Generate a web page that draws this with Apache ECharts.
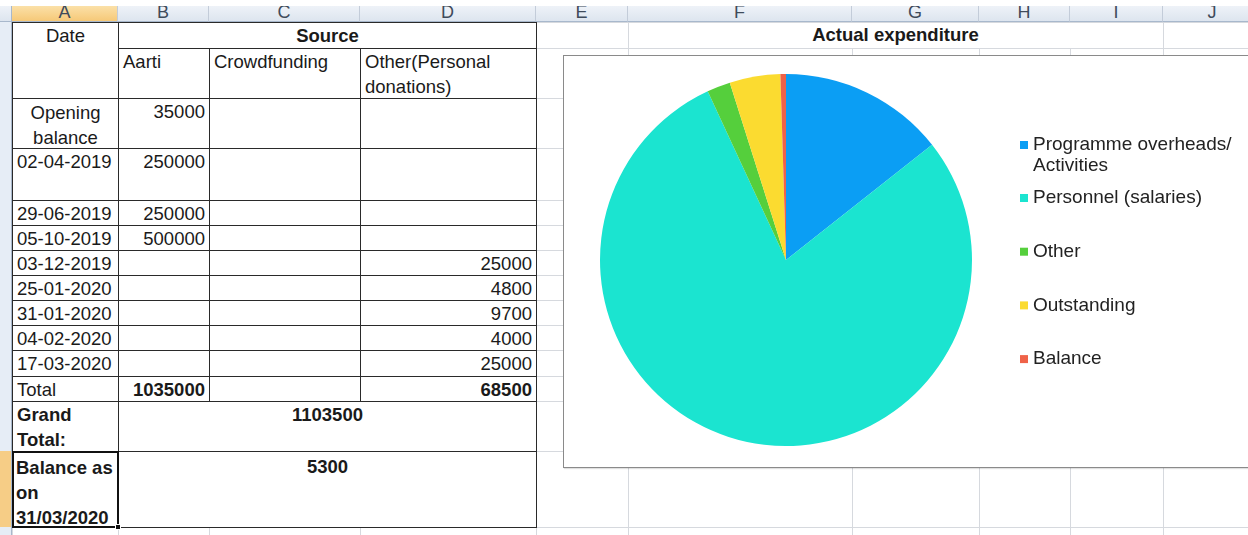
<!DOCTYPE html>
<html>
<head>
<meta charset="utf-8">
<script src="https://cdn.jsdelivr.net/npm/echarts@6/dist/echarts.min.js"></script>
<style>
  html, body { margin: 0; padding: 0; background: #fff; }
  body { width: 1248px; height: 535px; overflow: hidden; position: relative;
         font-family: Arial, "Liberation Sans", sans-serif; color: #1a1a1a; }
  .abs { position: absolute; box-sizing: border-box; }
  .cell { position: absolute; box-sizing: border-box; border: 1px solid #2a2a2a;
          font-size: 18.5px; line-height: 25px; padding: 0 4px; overflow: hidden; background: #fff; }
  .hl { position: absolute; height: 1px; background: #d6d9de; }
  .vl { position: absolute; width: 1px; background: #d6d9de; }
  .colhead { position: absolute; top: 6px; height: 16px; overflow: hidden; box-sizing: border-box;
             background: linear-gradient(#eef2f8, #dde5ef); border-right: 1px solid #c3ccd9;
             border-bottom: 1px solid #a8b8cc; text-align: center; font-size: 18px; color: #3f4b5b; }
  .colhead span { position: relative; top: -4px; line-height: 18px; }
  .colhead.sel { background: linear-gradient(#fbe0a8, #f6c978); color: #3f4b5b; }
  #chartBox { position: absolute; left: 563px; top: 55px; width: 700px; height: 413px;
              box-sizing: border-box; border: 1px solid #8a8a8a; background: #fff;
              box-shadow: 1px 1px 1px rgba(0,0,0,0.12); }
  #chart { position: absolute; left: 0; top: 0; width: 698px; height: 411px; }
</style>
</head>
<body>
<div id="sheet"></div>
<div id="chartBox"><div id="chart"></div></div>
<script>
// ---------------- data ----------------
const columnLetters = ['A', 'B', 'C', 'D', 'E', 'F', 'G', 'H', 'I', 'J'];
const sourceHeader = 'Source';
const dateHeader = 'Date';
const sourceNames = ['Aarti', 'Crowdfunding', 'Other(Personal donations)'];
const dates = ['Opening balance', '02-04-2019', '29-06-2019', '05-10-2019', '03-12-2019',
               '25-01-2020', '31-01-2020', '04-02-2020', '17-03-2020'];
const aarti = [35000, 250000, 250000, 500000, null, null, null, null, null];
const crowdfunding = [null, null, null, null, null, null, null, null, null];
const otherDonations = [null, null, null, null, 25000, 4800, 9700, 4000, 25000];
const totalLabel = 'Total';
const totals = [1035000, null, 68500];
const grandTotalLabel = 'Grand Total:';
const grandTotal = 1103500;
const balanceLabel = 'Balance as on 31/03/2020';
const balance = 5300;

const chartTitle = 'Actual expenditure';
const expenseCategories = ['Programme overheads/ Activities', 'Personnel (salaries)', 'Other', 'Outstanding', 'Balance'];
const expenseValues = [158600, 868600, 22400, 48600, 5300];
const expenseColors = ['#0b9ef4', '#1be4d0', '#55cf3c', '#fbdb30', '#ef6248'];

// ---------------- sheet layout ----------------
const colX = [12, 118, 209, 360, 536, 628, 852, 979, 1070, 1163, 1262];
const rowY = [22, 48, 98, 148, 200, 225, 250, 275, 300, 325, 350, 376, 401, 451, 527, 560];
const sheet = document.getElementById('sheet');

function el(cls, css, html) {
  const d = document.createElement('div');
  d.className = cls;
  Object.assign(d.style, css);
  if (html !== undefined) d.innerHTML = html;
  sheet.appendChild(d);
  return d;
}
function fmt(v) { return v === null || v === undefined ? '' : String(v); }

// column headers
el('abs', {left: '0px', top: '6px', width: '12px', height: '16px',
  background: 'linear-gradient(#eef2f8, #dde5ef)', borderRight: '1px solid #a8b8cc', borderBottom: '1px solid #a8b8cc'});
for (let i = 0; i < columnLetters.length; i++) {
  el('colhead' + (i === 0 ? ' sel' : ''), {left: colX[i] + 'px', width: (colX[i + 1] - colX[i]) + 'px'},
    '<span>' + columnLetters[i] + '</span>');
}
// row header strip
for (let r = 0; r < rowY.length - 1; r++) {
  const sel = (r === 13);
  el('abs', {left: '0px', top: rowY[r] + 'px', width: '12px', height: (rowY[r + 1] - rowY[r] + 1) + 'px',
    background: sel ? '#f6cd86' : '#e6edf6', borderRight: '1px solid #a8b8cc',
    borderBottom: '1px solid #c3ccd9'});
}
// light gridlines for the E..J region
for (let r = 0; r < rowY.length; r++) {
  el('hl', {left: colX[4] + 'px', top: rowY[r] + 'px', width: (1248 - colX[4]) + 'px'});
}
el('hl', {left: colX[0] + 'px', top: rowY[14] + 'px', width: (colX[4] - colX[0]) + 'px'});
for (let c = 4; c < colX.length - 1; c++) {
  const top = (c >= 6 && c <= 8) ? rowY[1] : rowY[0];
  el('vl', {left: colX[c] + 'px', top: top + 'px', height: (535 - top) + 'px'});
}
for (let c = 0; c < 4; c++) {
  el('vl', {left: colX[c] + 'px', top: rowY[14] + 'px', height: '10px'});
}
// title cell F1:I1
el('abs', {left: colX[5] + 'px', top: rowY[0] + 'px', width: (colX[9] - colX[5]) + 'px', height: (rowY[1] - rowY[0]) + 'px',
  textAlign: 'center', fontWeight: 'bold', fontSize: '18.5px', lineHeight: '26px'}, chartTitle);

function cell(c1, r1, c2, r2, text, opt) {
  opt = opt || {};
  const css = {
    left: colX[c1] + 'px', top: rowY[r1] + 'px',
    width: (colX[c2 + 1] - colX[c1] + 1) + 'px', height: (rowY[r2 + 1] - rowY[r1] + 1) + 'px',
    textAlign: opt.align || 'left', fontWeight: opt.bold ? 'bold' : 'normal',
    paddingTop: (opt.pt || 0) + 'px'
  };
  return el('cell', css, text);
}
// header rows
cell(0, 0, 0, 1, dateHeader, {align: 'center'});
cell(1, 0, 3, 0, sourceHeader, {align: 'center', bold: true});
for (let i = 0; i < sourceNames.length; i++) cell(1 + i, 1, 1 + i, 1, sourceNames[i]);
// body rows
for (let i = 0; i < dates.length; i++) {
  const r = 2 + i;
  cell(0, r, 0, r, dates[i], {align: i === 0 ? 'center' : 'left', pt: i === 0 ? 1 : 0});
  cell(1, r, 1, r, fmt(aarti[i]), {align: 'right'});
  cell(2, r, 2, r, fmt(crowdfunding[i]), {align: 'right'});
  cell(3, r, 3, r, fmt(otherDonations[i]), {align: 'right'});
}
cell(0, 11, 0, 11, totalLabel);
cell(1, 11, 1, 11, fmt(totals[0]), {align: 'right', bold: true});
cell(2, 11, 2, 11, fmt(totals[1]), {align: 'right', bold: true});
cell(3, 11, 3, 11, fmt(totals[2]), {align: 'right', bold: true});
cell(0, 12, 0, 12, grandTotalLabel, {bold: true});
cell(1, 12, 3, 12, fmt(grandTotal), {align: 'center', bold: true});
const bal = cell(0, 13, 0, 13, balanceLabel, {bold: true, pt: 2});
bal.style.border = '2px solid #111';
bal.style.padding = '2px 1px 0 2px';
bal.style.zIndex = 2;
cell(1, 13, 3, 13, fmt(balance), {align: 'center', bold: true, pt: 2});
// fill handle
el('abs', {left: (colX[1] - 3) + 'px', top: (rowY[14] - 3) + 'px', width: '6px', height: '6px',
  background: '#111', border: '1px solid #fff', zIndex: 3});

// ---------------- pie chart ----------------
const chart = echarts.init(document.getElementById('chart'), null, {renderer: 'canvas'});
const pieData = expenseCategories.map((n, i) => ({name: n, value: expenseValues[i], itemStyle: {color: expenseColors[i]}}));
const legendText = {fontSize: 19, fontFamily: 'Arial, "Liberation Sans", sans-serif', color: '#222', lineHeight: 21};
chart.setOption({
  animation: false,
  legend: [
    {
      data: [expenseCategories[0]], orient: 'vertical', left: 451, top: 52.5,
      icon: 'rect', itemWidth: 8, itemHeight: 8, selectedMode: false,
      formatter: n => ' \n' + n.replace('/ ', '/\n'),
      textStyle: legendText
    },
    {
      data: expenseCategories.slice(1), orient: 'vertical', left: 451, top: 126.5,
      icon: 'rect', itemWidth: 8, itemHeight: 8, itemGap: 32.7, selectedMode: false,
      textStyle: legendText
    }
  ],
  series: [{
    type: 'pie',
    center: [222, 204],
    radius: 186,
    startAngle: 90,
    clockwise: true,
    label: {show: false},
    labelLine: {show: false},
    emphasis: {disabled: true},
    itemStyle: {borderWidth: 0},
    data: pieData
  }]
});
</script>
</body>
</html>
